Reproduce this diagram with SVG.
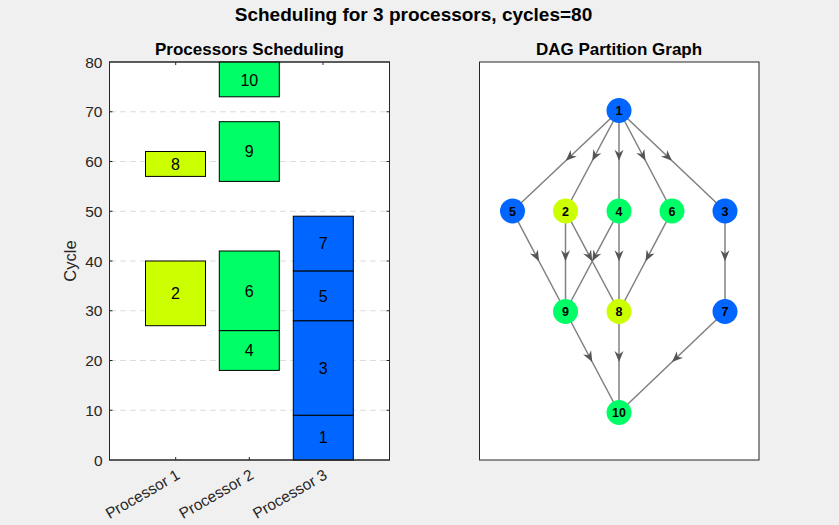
<svg xmlns="http://www.w3.org/2000/svg" width="839" height="525" viewBox="0 0 839 525">
<defs>
<style>
text{font-family:"Liberation Sans",Arial,sans-serif;fill:#000}
.tk{font-size:15.5px;fill:#262626}
.ttl{font-size:17px;font-weight:bold}
.grid{stroke:#dcdcdc;stroke-width:1;stroke-dasharray:6,4}
.ax{fill:#fff;stroke:#262626;stroke-width:1}
.tick{stroke:#262626;stroke-width:1}
.bar{stroke:#000;stroke-width:1}
.y{fill:#ccff00}.g{fill:#00ff66}.b{fill:#0066ff}
.bl{font-size:16px;text-anchor:middle}
.edge{fill:none;stroke:#808080;stroke-width:1.5;marker-mid:url(#arr)}
.nl{font-size:12.5px;font-weight:bold;text-anchor:middle}
</style>
<marker id="arr" markerUnits="userSpaceOnUse" markerWidth="14" markerHeight="12" viewBox="-12 -6 14 12" refX="0" refY="0" orient="auto">
<path d="M0,0 L-11,-4.5 L-7.5,0 L-11,4.5 Z" fill="#555"/>
</marker>
</defs>
<rect width="839" height="525" fill="#f0f0f0"/>
<text x="413.5" y="20.7" text-anchor="middle" style="font-size:19px;font-weight:bold">Scheduling for 3 processors, cycles=80</text>

<g id="left-axes">
<rect class="ax" x="109.5" y="62" width="280" height="398"/>
<g id="grid">
<line class="grid" x1="110" y1="410.25" x2="389" y2="410.25"/>
<line class="grid" x1="110" y1="360.5" x2="389" y2="360.5"/>
<line class="grid" x1="110" y1="310.75" x2="389" y2="310.75"/>
<line class="grid" x1="110" y1="261" x2="389" y2="261"/>
<line class="grid" x1="110" y1="211.25" x2="389" y2="211.25"/>
<line class="grid" x1="110" y1="161.5" x2="389" y2="161.5"/>
<line class="grid" x1="110" y1="111.75" x2="389" y2="111.75"/>
</g>
<g id="ticks">
<path class="tick" d="M109.5,410.25h3M109.5,360.5h3M109.5,310.75h3M109.5,261h3M109.5,211.25h3M109.5,161.5h3M109.5,111.75h3M389.5,410.25h-3M389.5,360.5h-3M389.5,310.75h-3M389.5,261h-3M389.5,211.25h-3M389.5,161.5h-3M389.5,111.75h-3M175.7,460v-3M249.3,460v-3M323,460v-3M175.7,62v3M249.3,62v3M323,62v3"/>
</g>
<g id="bars">
<g id="task8"><rect class="bar y" x="145.5" y="151.5" width="60" height="24.9"/><text class="bl" x="175.5" y="169.5">8</text></g>
<g id="task2"><rect class="bar y" x="145.5" y="261" width="60" height="64.7"/><text class="bl" x="175.5" y="299">2</text></g>
<g id="task4"><rect class="bar g" x="219.3" y="330.6" width="60" height="39.8"/><text class="bl" x="249.3" y="356">4</text></g>
<g id="task6"><rect class="bar g" x="219.3" y="251" width="60" height="79.6"/><text class="bl" x="249.3" y="296.5">6</text></g>
<g id="task9"><rect class="bar g" x="219.3" y="121.7" width="60" height="59.7"/><text class="bl" x="249.3" y="157">9</text></g>
<g id="task10"><rect class="bar g" x="219.3" y="62" width="60" height="34.8"/><text class="bl" x="249.3" y="86">10</text></g>
<g id="task1"><rect class="bar b" x="293.3" y="415.2" width="60" height="44.8"/><text class="bl" x="323.3" y="443">1</text></g>
<g id="task3"><rect class="bar b" x="293.3" y="320.7" width="60" height="94.5"/><text class="bl" x="323.3" y="373.5">3</text></g>
<g id="task5"><rect class="bar b" x="293.3" y="270.9" width="60" height="49.8"/><text class="bl" x="323.3" y="301.5">5</text></g>
<g id="task7"><rect class="bar b" x="293.3" y="216.2" width="60" height="54.7"/><text class="bl" x="323.3" y="249">7</text></g>
</g>
<rect x="109.5" y="62" width="280" height="398" fill="none" stroke="#262626" stroke-width="1"/>
<g id="yticklabels">
<text class="tk" x="102.5" y="465.5" text-anchor="end">0</text>
<text class="tk" x="102.5" y="415.75" text-anchor="end">10</text>
<text class="tk" x="102.5" y="366" text-anchor="end">20</text>
<text class="tk" x="102.5" y="316.25" text-anchor="end">30</text>
<text class="tk" x="102.5" y="266.5" text-anchor="end">40</text>
<text class="tk" x="102.5" y="216.75" text-anchor="end">50</text>
<text class="tk" x="102.5" y="167" text-anchor="end">60</text>
<text class="tk" x="102.5" y="117.25" text-anchor="end">70</text>
<text class="tk" x="102.5" y="67.5" text-anchor="end">80</text>
</g>
<text class="tk" transform="translate(76,261) rotate(-90)" text-anchor="middle" style="font-size:16.5px">Cycle</text>
<text class="tk" transform="translate(181,478) rotate(-30)" text-anchor="end">Processor 1</text>
<text class="tk" transform="translate(254.6,478) rotate(-30)" text-anchor="end">Processor 2</text>
<text class="tk" transform="translate(328.3,478) rotate(-30)" text-anchor="end">Processor 3</text>
<text class="ttl" x="249.5" y="54.5" text-anchor="middle">Processors Scheduling</text>
</g>

<g id="right-axes">
<rect class="ax" x="479.5" y="62" width="279.5" height="398"/>
<text class="ttl" x="619" y="54.5" text-anchor="middle">DAG Partition Graph</text>
</g>

<g id="connectors">
<path class="edge" d="M619,110.5L565.75,160.75L512.5,211"/>
<path class="edge" d="M619,110.5L592.25,160.75L565.5,211"/>
<path class="edge" d="M619,110.5L619,160.75L619,211"/>
<path class="edge" d="M619,110.5L645.5,160.75L672,211"/>
<path class="edge" d="M619,110.5L672,160.75L725,211"/>
<path class="edge" d="M512.5,211L539,261.25L565.5,311.5"/>
<path class="edge" d="M565.5,211L565.5,261.25L565.5,311.5"/>
<path class="edge" d="M565.5,211L592.25,261.25L619,311.5"/>
<path class="edge" d="M619,211L592.25,261.25L565.5,311.5"/>
<path class="edge" d="M619,211L619,261.25L619,311.5"/>
<path class="edge" d="M672,211L645.5,261.25L619,311.5"/>
<path class="edge" d="M725,211L725,261.25L725,311.5"/>
<path class="edge" d="M565.5,311.5L592.25,362L619,412.5"/>
<path class="edge" d="M619,311.5L619,362L619,412.5"/>
<path class="edge" d="M725,311.5L672,362L619,412.5"/>
</g>

<g id="node1"><circle class="b" cx="619" cy="110.5" r="12.5"/><text class="nl" x="619" y="115">1</text></g>
<g id="node5"><circle class="b" cx="512.5" cy="211" r="12.5"/><text class="nl" x="512.5" y="215.5">5</text></g>
<g id="node2"><circle class="y" cx="565.5" cy="211" r="12.5"/><text class="nl" x="565.5" y="215.5">2</text></g>
<g id="node4"><circle class="g" cx="619" cy="211" r="12.5"/><text class="nl" x="619" y="215.5">4</text></g>
<g id="node6"><circle class="g" cx="672" cy="211" r="12.5"/><text class="nl" x="672" y="215.5">6</text></g>
<g id="node3"><circle class="b" cx="725" cy="211" r="12.5"/><text class="nl" x="725" y="215.5">3</text></g>
<g id="node9"><circle class="g" cx="565.5" cy="311.5" r="12.5"/><text class="nl" x="565.5" y="316">9</text></g>
<g id="node8"><circle class="y" cx="619" cy="311.5" r="12.5"/><text class="nl" x="619" y="316">8</text></g>
<g id="node7"><circle class="b" cx="725" cy="311.5" r="12.5"/><text class="nl" x="725" y="316">7</text></g>
<g id="node10"><circle class="g" cx="619" cy="412.5" r="12.5"/><text class="nl" x="619" y="417">10</text></g>
</svg>
